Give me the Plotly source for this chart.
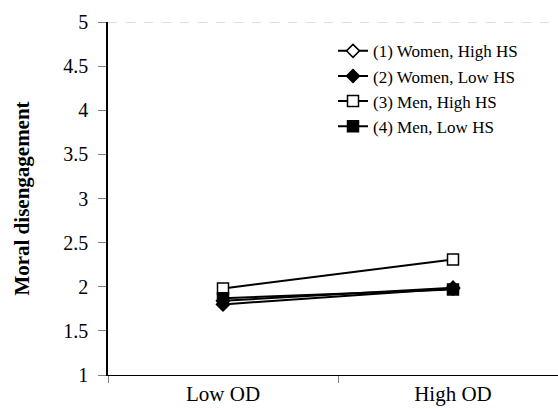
import plotly.graph_objects as go

categories = ["Low OD", "High OD"]
series_names = ["(1) Women, High HS", "(2) Women, Low HS", "(3) Men, High HS", "(4) Men, Low HS"]
women_high_hs = [1.84, 1.99]
women_low_hs = [1.80, 1.98]
men_high_hs = [1.98, 2.31]
men_low_hs = [1.87, 1.97]
y_ticks = [1, 1.5, 2, 2.5, 3, 3.5, 4, 4.5, 5]

series_values = [women_high_hs, women_low_hs, men_high_hs, men_low_hs]
symbols = ["diamond", "diamond", "square", "square"]
fills = ["white", "black", "white", "black"]
sizes = [10, 10, 11, 11]

fig = go.Figure()
for i, (name, vals) in enumerate(zip(series_names, series_values)):
    fig.add_trace(go.Scatter(
        x=categories, y=vals, name=name, mode="lines+markers",
        line=dict(color="black", width=2),
        marker=dict(symbol=symbols[i], size=sizes[i], color=fills[i],
                    line=dict(color="black", width=1.5)),
    ))

fig.add_shape(type="line", xref="paper", yref="y", x0=0, x1=1, y0=5, y1=5,
              line=dict(color="#c0c0c0", width=1, dash="dash"))

fig.update_layout(
    width=558, height=409,
    margin=dict(l=108, r=0, t=22, b=34),
    plot_bgcolor="white", paper_bgcolor="white",
    font=dict(family="Liberation Serif", size=20, color="black"),
    showlegend=True,
    legend=dict(x=0.5, y=0.968, xanchor="left", yanchor="top", bgcolor="rgba(0,0,0,0)",
                font=dict(size=17)),
    xaxis=dict(type="category", range=[-0.5, 1.4565], tickson="boundaries",
               ticks="outside", ticklen=7, tickcolor="#808080", tickfont=dict(size=21),
               showline=True, linecolor="black", linewidth=1, showgrid=False, zeroline=False,
               fixedrange=True),
    yaxis=dict(range=[1, 5], tickvals=y_ticks, ticktext=[f"{v:g}" for v in y_ticks],
               ticks="outside", ticklen=8, tickcolor="#808080", ticklabelstandoff=6,
               tickfont=dict(size=20),
               showline=True, linecolor="black", linewidth=1.5, showgrid=False, zeroline=False,
               title=dict(text="<b>Moral disengagement</b>", standoff=28, font=dict(size=21))),
)

fig.write_html("out.html")
